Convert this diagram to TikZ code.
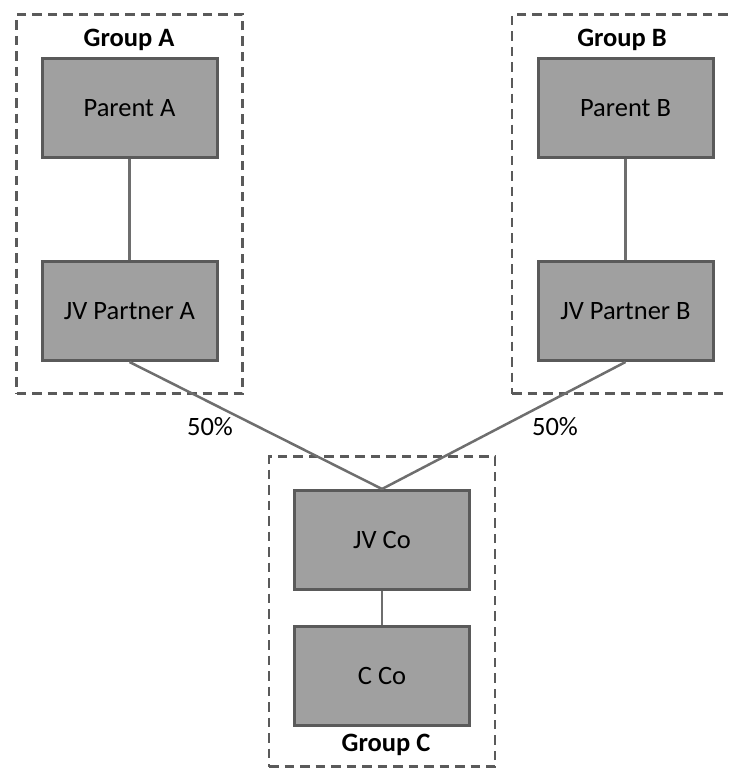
\documentclass[tikz,border=0pt]{standalone}
\usepackage{fontspec}
\setmainfont{Carlito}
\definecolor{boxfill}{HTML}{A0A0A0}
\definecolor{boxline}{HTML}{5A5A5A}
\definecolor{linkline}{HTML}{6E6E6E}
\begin{document}
\begin{tikzpicture}[x=1pt, y=-1pt,
  entity/.style={draw=boxline, fill=boxfill, line width=3pt, minimum width=175pt, minimum height=99pt, font=\fontsize{26.5}{31}\selectfont},
  group/.style={draw=boxline, line width=2.8pt, dash pattern=on 9.5pt off 6pt},
  grplabel/.style={font=\fontsize{26.5}{31}\selectfont\bfseries},
  pct/.style={font=\fontsize{26.5}{31}\selectfont},
  link/.style={draw=linkline, line width=2.5pt}]
\useasboundingbox (0,0) rectangle (728,768);
\clip (0,0) rectangle (728,768);

% group boxes
\node[group, minimum width=226pt, minimum height=379pt] (grpA) at (129.5, 204) {};
\node[group, minimum width=236pt, minimum height=379pt] (grpB) at (630, 204) {};
\node[group, minimum width=226pt, minimum height=310pt] (grpC) at (382, 611.5) {};

\node[grplabel] (labA) at (129, 40) {Group A};
\node[grplabel] (labB) at (622, 40) {Group B};
\node[grplabel] (labC) at (386, 745) {Group C};

% entities
\node[entity] (parA) at (129.5, 108) {Parent A};
\node[entity] (jvpA) at (129.5, 311) {JV Partner A};
\node[entity] (parB) at (625.5, 108) {Parent B};
\node[entity] (jvpB) at (625.5, 311) {JV Partner B};
\node[entity] (jvco) at (382, 540) {JV Co};
\node[entity] (cco) at (382, 675.5) {C Co};

% links
\draw[link] (parA) -- (jvpA);
\draw[link] (parB) -- (jvpB);
\draw[link] (jvco) -- (cco);
\draw[link] (jvpA.south) -- (jvco.north);
\draw[link] (jvpB.south) -- (jvco.north);

\node[pct] (pctA) at (210, 427) {50\%};
\node[pct] (pctB) at (555, 427) {50\%};
\end{tikzpicture}
\end{document}
